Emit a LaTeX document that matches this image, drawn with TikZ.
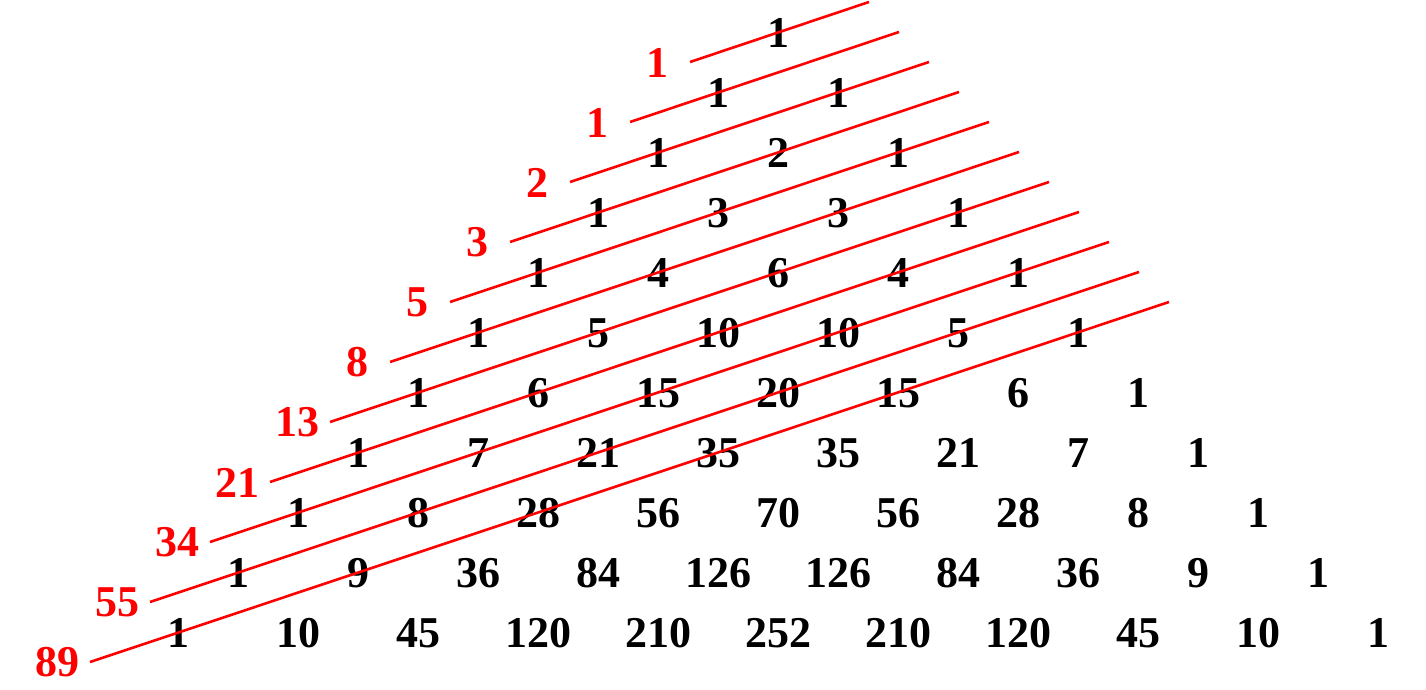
\documentclass[tikz,border=0pt]{standalone}
\usepackage{fontspec}
\setmainfont{Liberation Serif}
\begin{document}
\begin{tikzpicture}[x=1pt,y=-1pt,
  num/.style={font=\fontsize{44}{44}\selectfont\bfseries, inner sep=0pt, text=black},
  fib/.style={num, text=red},
  diag/.style={draw=red, line width=2.6pt}]
\useasboundingbox (0,0) rectangle (1426,689);
\foreach \row [count=\n from 0] in {{1},{1,1},{1,2,1},{1,3,3,1},{1,4,6,4,1},{1,5,10,10,5,1},{1,6,15,20,15,6,1},{1,7,21,35,35,21,7,1},{1,8,28,56,70,56,28,8,1},{1,9,36,84,126,126,84,36,9,1},{1,10,45,120,210,252,210,120,45,10,1}}{
  \foreach \v [count=\k from 0] in \row {
    \node[num] (p-\n-\k) at ({778-60*\n+120*\k},{33+60*\n}) {\v};
  }
}
\foreach \f [count=\i from 0] in {1,1,2,3,5,8,13,21,34,55,89}{
  \node[fib] (f-\i) at ({657-60*\i},{62.5+60*\i}) {\f};
  \coordinate (s-\i) at ({690-60*\i},{62+60*\i});
  \coordinate (e-\i) at ({869+30*\i},{2+30*\i});
  \draw[diag] (s-\i) -- (e-\i);
}
\end{tikzpicture}
\end{document}
